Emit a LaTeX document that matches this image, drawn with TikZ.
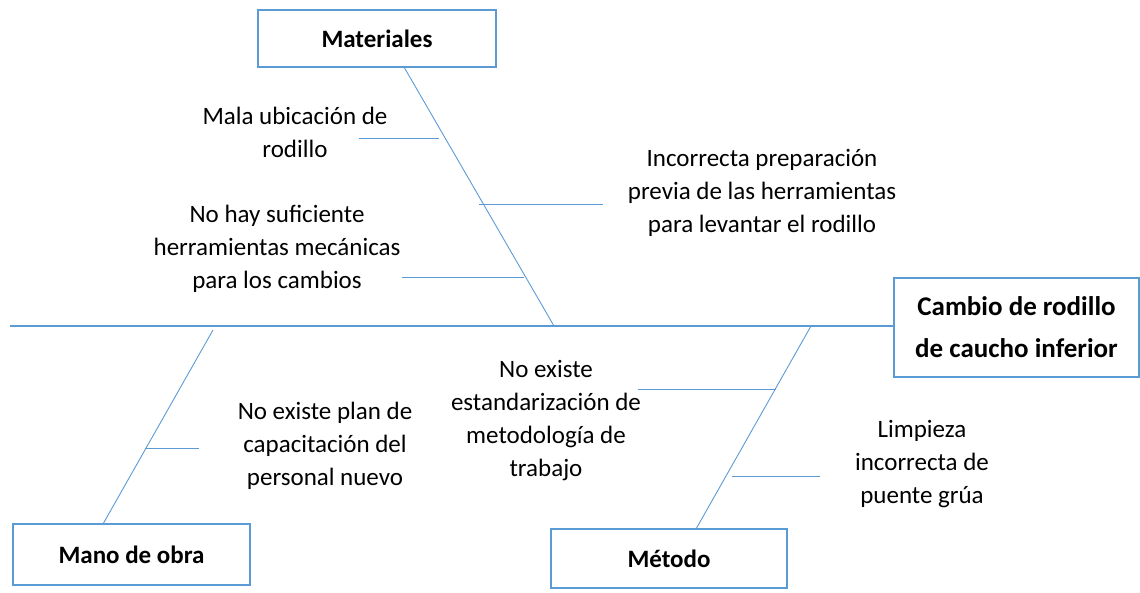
\documentclass[tikz,border=0pt]{standalone}
\usepackage{fontspec}
\setmainfont{Carlito}
\definecolor{lineblue}{HTML}{5B9BD5}
\begin{document}
\begin{tikzpicture}[x=1pt,y=-1pt,
  cat/.style={rectangle, draw=lineblue, line width=1.6pt, fill=white, font=\fontsize{25}{33}\selectfont\bfseries},
  cause/.style={align=center, inner sep=0pt, font=\fontsize{25}{33}\selectfont},
  bone/.style={draw=lineblue, line width=0.9pt}]
\useasboundingbox (0,0) rectangle (1140,592);
\node[cat, minimum width=238pt, minimum height=57pt] (Materiales) at (377,38.5) {Materiales};
\node[cat, minimum width=245pt, minimum height=99pt, align=center, font=\fontsize{27}{42}\selectfont\bfseries] (Efecto) at (1016.5,327.5) {Cambio de rodillo\\de caucho inferior};
\node[cat, minimum width=237pt, minimum height=61pt] (ManoObra) at (131.5,554.5) {Mano de obra};
\node[cat, minimum width=236pt, minimum height=59pt] (Metodo) at (669,558.5) {Método};

\coordinate (SpineStart) at (10,326);
\coordinate (MatTop) at (404,67);
\coordinate (MatEnd) at (554,326);
\coordinate (ManoTop) at (213,330);
\coordinate (ManoEnd) at (103,524);
\coordinate (MetTop) at (811,326);
\coordinate (MetEnd) at (696,529);

\draw[bone, line width=1.2pt] (SpineStart) -- (Efecto.west |- SpineStart);
\draw[bone] (MatTop) -- (MatEnd);
\draw[bone] (ManoTop) -- (ManoEnd);
\draw[bone] (MetTop) -- (MetEnd);

% causas de materiales
\node[cause] (Ubicacion) at (295,132.5) {Mala ubicación de\\rodillo};
\node[cause] (Herramientas) at (277,249) {No hay suficiente\\herramientas mecánicas\\para los cambios};
\node[cause] (Preparacion) at (762,193) {Incorrecta preparación\\previa de las herramientas\\para levantar el rodillo};
\coordinate (UbicA) at (359,138);
\coordinate (UbicB) at (439,138);
\coordinate (HerrA) at (402,277);
\coordinate (HerrB) at (524,277);
\coordinate (PrepA) at (479,204);
\coordinate (PrepB) at (603,204);
\draw[bone] (UbicA) -- (UbicB);
\draw[bone] (HerrA) -- (HerrB);
\draw[bone] (PrepA) -- (PrepB);

% causas de mano de obra
\node[cause] (Capacitacion) at (325,446) {No existe plan de\\capacitación del\\personal nuevo};
\coordinate (CapA) at (146,448);
\coordinate (CapB) at (199,448);
\draw[bone] (CapA) -- (CapB);

% causas de metodo
\node[cause] (Estandar) at (546,421) {No existe\\estandarización de\\metodología de\\trabajo};
\node[cause] (Limpieza) at (922,464) {Limpieza\\incorrecta de\\puente grúa};
\coordinate (EstA) at (638,389);
\coordinate (EstB) at (776,389);
\coordinate (LimA) at (732,476);
\coordinate (LimB) at (820,476);
\draw[bone] (EstA) -- (EstB);
\draw[bone] (LimA) -- (LimB);
\end{tikzpicture}
\end{document}
